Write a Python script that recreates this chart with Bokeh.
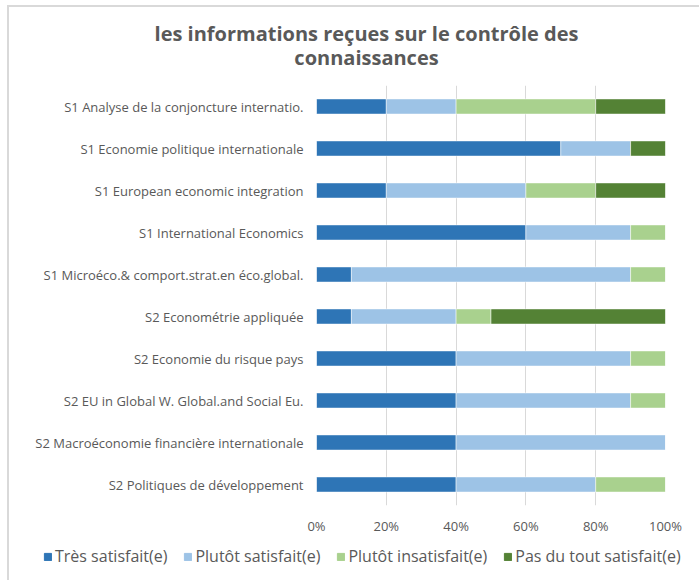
from bokeh.plotting import figure
from bokeh.layouts import column
from bokeh.models import Legend, LegendItem, FactorRange, NumeralTickFormatter, Label
from bokeh.embed import file_html
from bokeh.resources import INLINE

categories = [
    "S1 Analyse de la conjoncture internatio.",
    "S1 Economie politique internationale",
    "S1 European economic integration",
    "S1 International Economics",
    "S1 Microéco.& comport.strat.en éco.global.",
    "S2 Econométrie appliquée",
    "S2 Economie du risque pays",
    "S2 EU in Global W. Global.and Social Eu.",
    "S2 Macroéconomie financière internationale",
    "S2 Politiques de développement",
]
tres_satisfait = [20, 70, 20, 60, 10, 10, 40, 40, 40, 40]
plutot_satisfait = [20, 20, 40, 30, 80, 30, 50, 50, 60, 40]
plutot_insatisfait = [40, 0, 20, 10, 10, 10, 10, 10, 0, 20]
pas_du_tout = [20, 10, 20, 0, 0, 50, 0, 0, 0, 0]
series_names = ["Très satisfait(e)", "Plutôt satisfait(e)", "Plutôt insatisfait(e)", "Pas du tout satisfait(e)"]
colors = ["#2E75B6", "#9DC3E6", "#A9D18E", "#548235"]
x_ticks = [0, 20, 40, 60, 80, 100]
title_lines = ["les informations reçues sur le contrôle des", "connaissances"]

FONT = "Open Sans"
GRAY = "#595959"
W = 690
series_values = [tres_satisfait, plutot_satisfait, plutot_insatisfait, pas_du_tout]

# ---- title strip ----
pt = figure(width=W, height=70, x_range=(0, 1), y_range=(0, 1), x_axis_type=None, y_axis_type=None,
            output_backend="svg", toolbar_location=None, min_border=0, frame_align=False)
pt.outline_line_color = None
pt.grid.grid_line_color = None
for t, yy in zip(title_lines, [44, 20]):
    pt.add_layout(Label(x=357, y=yy, x_units="screen", y_units="screen", text=t,
                        text_align="center", text_baseline="middle", text_font=FONT,
                        text_font_style="bold", text_font_size="20px", text_color=GRAY))

# ---- main chart ----
data = {
    "cat": categories,
    "s0": [v / 100 for v in tres_satisfait],
    "s1": [v / 100 for v in plutot_satisfait],
    "s2": [v / 100 for v in plutot_insatisfait],
    "s3": [v / 100 for v in pas_du_tout],
}
p = figure(
    width=W, height=460,
    y_range=FactorRange(*reversed(categories), range_padding=0),
    x_range=(0, 1),
    output_backend="svg", toolbar_location=None, frame_align=False,
    min_border_left=307, min_border_right=34, min_border_top=8, min_border_bottom=32,
)
p.outline_line_color = None
p.hbar_stack(["s0", "s1", "s2", "s3"], y="cat", height=0.36, color=colors,
             line_color="white", line_width=0.5, source=data)

p.xaxis.ticker = [t / 100 for t in x_ticks]
p.xaxis.formatter = NumeralTickFormatter(format="0%")
for ax in (p.xaxis[0], p.yaxis[0]):
    ax.axis_line_color = None
    ax.major_tick_line_color = None
    ax.minor_tick_line_color = None
    ax.major_label_text_font = FONT
    ax.major_label_text_color = GRAY
    ax.major_label_text_font_size = "13px"
p.xaxis.major_label_standoff = 5
p.yaxis.major_label_standoff = 7
p.ygrid.grid_line_color = None
p.xgrid.grid_line_color = "#d9d9d9"
p.xgrid.grid_line_width = 1

# ---- legend strip (hidden copies of the series provide the legend swatches) ----
pl = figure(width=W, height=43, x_range=(0, 1), y_range=(0, 1), x_axis_type=None, y_axis_type=None,
            output_backend="svg", toolbar_location=None, min_border=0, frame_align=False)
pl.outline_line_color = None
pl.grid.grid_line_color = None
items = []
for n, c, vals in zip(series_names, colors, series_values):
    r = pl.hbar(y=list(range(len(vals))), right=vals, height=0.36, color=c, visible=False)
    items.append(LegendItem(label=n, renderers=[r], index=0))
legend = Legend(items=items, orientation="horizontal", location=(34, 13))
legend.padding = 0
legend.margin = 0
legend.spacing = 16
legend.glyph_width = 9
legend.glyph_height = 9
legend.label_standoff = 3
legend.label_text_font = FONT
legend.label_text_font_size = "16px"
legend.label_text_color = GRAY
legend.border_line_color = None
legend.background_fill_alpha = 0
pl.add_layout(legend, "center")

layout = column(pt, p, pl, spacing=0,
                styles={"border-left": "2px solid #d9d9d9", "border-top": "2px solid #d9d9d9",
                        "margin-left": "7px", "margin-top": "5px"})

open("out.html", "w").write(file_html(layout, INLINE))
